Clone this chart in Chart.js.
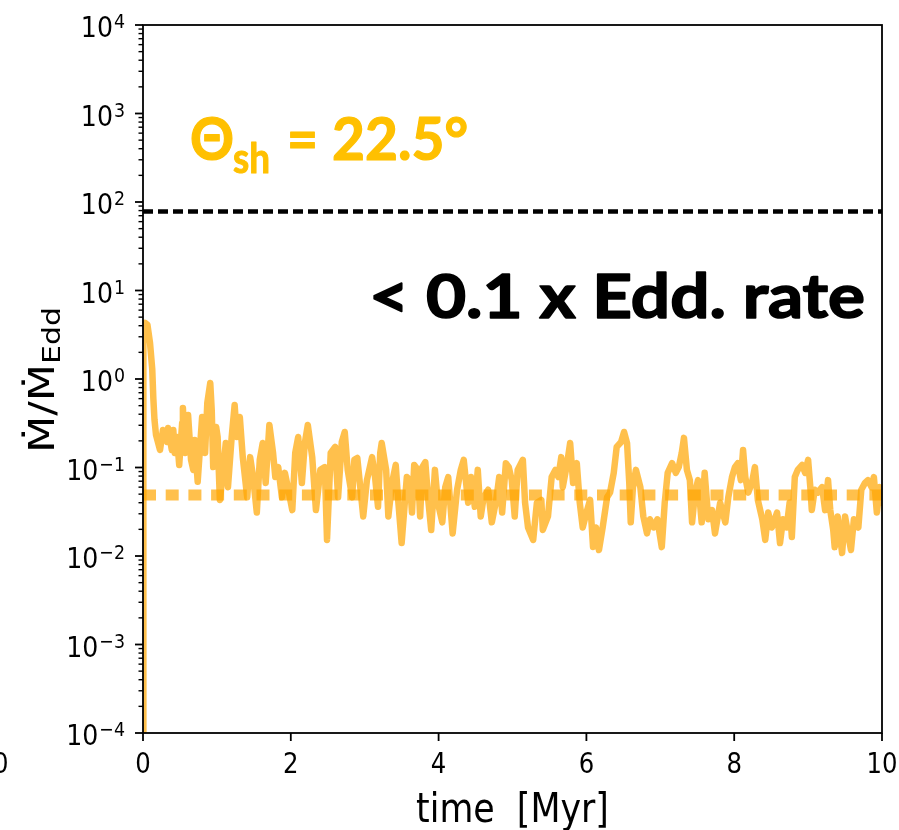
<!DOCTYPE html>
<html><head><meta charset="utf-8">
<script src="https://cdn.jsdelivr.net/npm/chart.js@4/dist/chart.umd.min.js"></script>
<style>html,body{margin:0;padding:0;background:#fff;overflow:hidden}canvas{display:block}</style>
</head><body>
<canvas id="c" width="899" height="830"></canvas>
<script>
// ---- data (time in Myr, accretion rate in Eddington units) ----
const times = [0.0,0.005,0.03,0.06,0.095,0.125,0.14,0.155,0.176,0.23,0.27,0.325,0.34,0.39,0.41,0.43,0.46,0.49,0.53,0.54,0.57,0.61,0.65,0.68,0.70,0.74,0.80,0.84,0.87,0.91,0.93,0.95,0.99,1.01,1.04,1.08,1.12,1.15,1.20,1.24,1.27,1.31,1.35,1.41,1.45,1.49,1.54,1.58,1.62,1.66,1.71,1.76,1.79,1.83,1.88,1.92,1.96,2.02,2.06,2.10,2.15,2.19,2.23,2.29,2.34,2.40,2.46,2.49,2.54,2.60,2.64,2.69,2.73,2.77,2.83,2.86,2.90,2.94,2.98,3.03,3.10,3.14,3.18,3.21,3.23,3.29,3.32,3.37,3.42,3.45,3.50,3.57,3.61,3.64,3.67,3.72,3.75,3.78,3.82,3.86,3.90,3.95,3.99,4.05,4.09,4.13,4.19,4.25,4.30,4.34,4.40,4.44,4.49,4.53,4.57,4.61,4.67,4.72,4.78,4.82,4.86,4.91,4.95,4.99,5.03,5.07,5.14,5.17,5.21,5.28,5.33,5.39,5.41,5.48,5.53,5.58,5.62,5.66,5.68,5.74,5.78,5.82,5.87,5.91,5.95,6.01,6.05,6.09,6.13,6.17,6.22,6.28,6.32,6.37,6.41,6.47,6.51,6.55,6.58,6.60,6.63,6.67,6.73,6.77,6.82,6.86,6.91,6.96,7.02,7.06,7.10,7.16,7.21,7.25,7.29,7.32,7.36,7.40,7.43,7.47,7.51,7.56,7.60,7.65,7.70,7.74,7.81,7.88,7.92,7.97,8.01,8.05,8.09,8.12,8.15,8.19,8.24,8.28,8.32,8.38,8.42,8.46,8.51,8.58,8.62,8.66,8.71,8.75,8.78,8.82,8.86,8.92,8.96,9.00,9.03,9.05,9.09,9.13,9.19,9.23,9.27,9.30,9.34,9.36,9.40,9.46,9.50,9.54,9.58,9.62,9.68,9.72,9.77,9.81,9.86,9.89,9.93,9.97,10.0];
const rates = [1e-6,3.9,4.3,4.1,2.55,1.3,0.6,0.35,0.233,0.158,0.265,0.195,0.279,0.158,0.265,0.146,0.221,0.107,0.318,0.470,0.146,0.392,0.122,0.094,0.205,0.069,0.372,0.146,0.535,0.90,0.447,0.101,0.287,0.221,0.043,0.087,0.189,0.060,0.221,0.508,0.221,0.372,0.131,0.046,0.131,0.078,0.031,0.122,0.189,0.067,0.302,0.146,0.078,0.101,0.046,0.087,0.060,0.033,0.146,0.221,0.067,0.189,0.302,0.131,0.033,0.094,0.101,0.0152,0.146,0.171,0.046,0.194,0.252,0.094,0.046,0.122,0.128,0.060,0.028,0.072,0.131,0.078,0.036,0.146,0.189,0.094,0.028,0.067,0.107,0.046,0.014,0.078,0.072,0.031,0.107,0.094,0.028,0.101,0.115,0.043,0.0197,0.094,0.040,0.024,0.060,0.078,0.018,0.056,0.094,0.122,0.040,0.078,0.036,0.094,0.028,0.046,0.056,0.024,0.043,0.078,0.031,0.112,0.101,0.072,0.028,0.094,0.122,0.040,0.021,0.0152,0.040,0.043,0.0197,0.028,0.078,0.094,0.078,0.131,0.060,0.112,0.189,0.067,0.112,0.040,0.021,0.033,0.043,0.0126,0.021,0.0117,0.021,0.046,0.052,0.087,0.171,0.194,0.252,0.189,0.067,0.024,0.060,0.094,0.060,0.028,0.018,0.026,0.021,0.026,0.0126,0.040,0.087,0.112,0.087,0.101,0.146,0.216,0.094,0.072,0.024,0.052,0.072,0.024,0.087,0.026,0.033,0.018,0.040,0.024,0.046,0.078,0.101,0.112,0.072,0.158,0.078,0.052,0.067,0.101,0.043,0.026,0.0152,0.031,0.021,0.031,0.014,0.026,0.021,0.040,0.0164,0.078,0.094,0.107,0.087,0.122,0.060,0.033,0.056,0.052,0.060,0.033,0.072,0.033,0.0197,0.0126,0.028,0.0108,0.028,0.018,0.0117,0.026,0.021,0.056,0.067,0.072,0.060,0.078,0.031,0.060,0.040];
const eddingtonLimit = 78;     // black dashed line
const meanRate = 0.049;        // orange dotted line
const xTickValues = [0, 2, 4, 6, 8, 10];
const yTickExponents = [-4, -3, -2, -1, 0, 1, 2, 3, 4];
const angleLabel = ['\u0398', 'sh', '=', '22.5\u00B0'];
const regimeLabel = '< 0.1 x Edd. rate';
const xTitle = 'time  [Myr]';
const yTitleMain = '\u1E40/\u1E40';
const yTitleSub = 'Edd';

const SX = 0.87;
function txt(ctx, s, x, y, font, color, align, sx) {
  ctx.save();
  ctx.font = font; ctx.fillStyle = color; ctx.textBaseline = 'alphabetic'; ctx.textAlign = 'left';
  const w = ctx.measureText(s).width * sx;
  let x0 = x;
  if (align === 'center') x0 = x - w / 2; else if (align === 'right') x0 = x - w;
  ctx.translate(x0, y); ctx.scale(sx, 1); ctx.fillText(s, 0, 0);
  ctx.restore();
  return w;
}
function fit(ctx, s, x, y, font, color, width, stroke) {
  ctx.save();
  ctx.font = font; ctx.fillStyle = color; ctx.textBaseline = 'alphabetic'; ctx.textAlign = 'left';
  const w = ctx.measureText(s).width;
  ctx.translate(x, y); ctx.scale(width / w, 1); ctx.fillText(s, 0, 0);
  if (stroke) { ctx.strokeStyle = color; ctx.lineWidth = stroke; ctx.lineJoin = 'round'; ctx.strokeText(s, 0, 0); }
  ctx.restore();
}

const axesPlugin = {
  id: 'axesDeco',
  afterDraw(chart) {
    const ctx = chart.ctx, a = chart.chartArea;
    const xs = chart.scales.x, ys = chart.scales.y;
    ctx.save();
    // spines
    ctx.strokeStyle = '#000'; ctx.lineWidth = 1.8;
    ctx.strokeRect(a.left, a.top, a.right - a.left, a.bottom - a.top);
    // y ticks
    ctx.lineWidth = 1.8;
    yTickExponents.forEach(e => {
      const py = ys.getPixelForValue(Math.pow(10, e));
      ctx.beginPath(); ctx.moveTo(a.left - 8, py); ctx.lineTo(a.left, py); ctx.stroke();
      const ex = e < 0 ? '\u2212' + Math.abs(e) : String(e);
      const we = txt(ctx, ex, 125, py + 3, '20px "DejaVu Sans"', '#000', 'right', SX);
      txt(ctx, '10', 125 - we - 1, py + 12, '29px "DejaVu Sans"', '#000', 'right', SX);
      if (e < 4) {
        ctx.lineWidth = 1.4;
        for (let m = 2; m <= 9; m++) {
          const pm = ys.getPixelForValue(m * Math.pow(10, e));
          ctx.beginPath(); ctx.moveTo(a.left - 4.5, pm); ctx.lineTo(a.left, pm); ctx.stroke();
        }
        ctx.lineWidth = 1.8;
      }
    });
    // x ticks
    xTickValues.forEach(v => {
      const px = xs.getPixelForValue(v);
      ctx.beginPath(); ctx.moveTo(px, a.bottom); ctx.lineTo(px, a.bottom + 8); ctx.stroke();
      txt(ctx, String(v), px, 773, '28px "DejaVu Sans"', '#000', 'center', SX);
    });
    // neighbouring panel's label, cut at the left edge
    txt(ctx, '10', -7, 773, '28px "DejaVu Sans"', '#000', 'center', SX);
    // x title
    txt(ctx, xTitle, (a.left + a.right) / 2, 822, '40px "DejaVu Sans"', '#000', 'center', SX);
    // y title (rotated)
    ctx.save();
    ctx.translate(54, 453); ctx.rotate(-Math.PI / 2); ctx.scale(1, 0.92);
    ctx.fillStyle = '#000'; ctx.textBaseline = 'alphabetic'; ctx.textAlign = 'left';
    ctx.font = '39px "DejaVu Sans"';
    const w1 = ctx.measureText(yTitleMain).width;
    ctx.font = '27px "DejaVu Sans"';
    const w2 = ctx.measureText(yTitleSub).width;
    const k = 146 / (w1 + w2);
    ctx.save(); ctx.scale(k, 1);
    ctx.font = '39px "DejaVu Sans"'; ctx.fillText(yTitleMain, 0, 0);
    ctx.font = '27px "DejaVu Sans"'; ctx.fillText(yTitleSub, w1, 6);
    ctx.restore();
    ctx.restore();
    // annotations
    const gold = '#FFC000';
    fit(ctx, angleLabel[0], 190, 160, 'bold 59px Lato', gold, 44, 1.2);
    fit(ctx, angleLabel[1], 233, 173, 'bold 42px Lato', gold, 37, 1);
    fit(ctx, angleLabel[2], 287, 160, 'bold 59px Lato', gold, 31, 1.2);
    fit(ctx, angleLabel[3], 332, 160, 'bold 59px Lato', gold, 136, 1.2);
    fit(ctx, regimeLabel, 369, 318, 'bold 61px Lato', '#000', 496, 1.6);
    ctx.restore();
  }
};

const seriesPoints = times.map((t, i) => ({ x: t, y: rates[i] }));
new Chart(document.getElementById('c'), {
  type: 'scatter',
  data: {
    datasets: [
      { data: [{ x: 0, y: eddingtonLimit }, { x: 10, y: eddingtonLimit }], showLine: true, borderColor: '#000', borderWidth: 4.5, borderDash: [10, 5], pointRadius: 0, borderCapStyle: 'butt' },
      { data: [{ x: 0, y: meanRate }, { x: 10, y: meanRate }], showLine: true, borderColor: 'rgba(255,165,0,0.7)', borderWidth: 11, borderDash: [13, 9.7], pointRadius: 0, borderCapStyle: 'butt' },
      { data: seriesPoints, showLine: true, borderColor: 'rgba(255,165,0,0.7)', borderWidth: 6.5, pointRadius: 0, borderJoinStyle: 'round', borderCapStyle: 'round', tension: 0 }
    ]
  },
  options: {
    responsive: false, animation: false, devicePixelRatio: 1,
    layout: { padding: { left: 143, right: 17, top: 25, bottom: 97 } },
    plugins: { legend: { display: false }, tooltip: { enabled: false } },
    events: [],
    scales: {
      x: { type: 'linear', min: 0, max: 10, display: false },
      y: { type: 'logarithmic', min: 1e-4, max: 1e4, display: false }
    }
  },
  plugins: [axesPlugin]
});
</script>
</body></html>
